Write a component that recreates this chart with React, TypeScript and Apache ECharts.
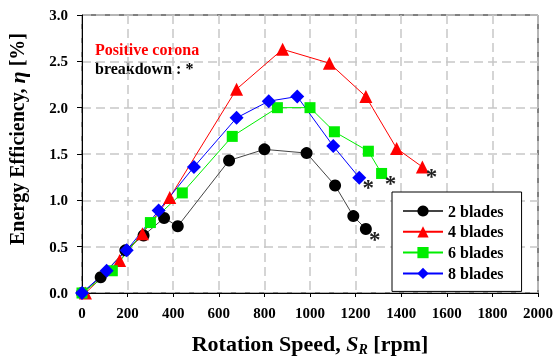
import React, { useEffect, useRef } from "react";
import * as echarts from "echarts";

const xTicks = [0, 200, 400, 600, 800, 1000, 1200, 1400, 1600, 1800, 2000];
const yTicks = ["0.0", "0.5", "1.0", "1.5", "2.0", "2.5", "3.0"];

const seriesNames = ["2 blades", "4 blades", "6 blades", "8 blades"];

const blades2: [number, number][] = [
  [0, 0], [82, 0.17], [190, 0.46], [270, 0.62], [360, 0.81], [420, 0.72],
  [645, 1.43], [800, 1.55], [985, 1.51], [1110, 1.16], [1190, 0.83], [1245, 0.69],
];
const blades4: [number, number][] = [
  [15, 0.0], [165, 0.35], [265, 0.64], [385, 1.03], [678, 2.2], [880, 2.63],
  [1085, 2.48], [1245, 2.12], [1380, 1.56], [1493, 1.36],
];
const blades6: [number, number][] = [
  [0, 0], [133, 0.24], [300, 0.76], [440, 1.08], [659, 1.69], [857, 2.0],
  [1000, 2.0], [1107, 1.74], [1256, 1.53], [1314, 1.29],
];
const blades8: [number, number][] = [
  [0, 0], [108, 0.24], [196, 0.46], [336, 0.89], [491, 1.36], [678, 1.89],
  [819, 2.07], [944, 2.12], [1102, 1.585], [1216, 1.245],
];

const colors = ["#000000", "#ff0000", "#00ee00", "#0000ff"];
const lineColors = ["#444444", "#ff0000", "#00ee00", "#0000ff"];
const symbols = ["circle", "triangle", "rect", "diamond"];
const symbolSizes = [12, 13, 11, 14];
const allData = [blades2, blades4, blades6, blades8];

const FONT = '"Liberation Serif", "Times New Roman", serif';

export default function App() {
  const ref = useRef<HTMLDivElement>(null);
  useEffect(() => {
    if (!ref.current) return;
    const chart = echarts.init(ref.current, null, { renderer: "svg" });
    const series = allData.map((d, i) => ({
      name: seriesNames[i],
      type: "line",
      symbol: symbols[i],
      symbolSize: symbolSizes[i],
      color: colors[i],
      lineStyle: { color: lineColors[i], width: 1 },
      itemStyle: { color: colors[i] },
      data: d.map((p, j) =>
        j === d.length - 1
          ? {
              value: p,
              label: {
                show: true,
                formatter: "*",
                position: [symbolSizes[i] / 2 + 9, symbolSizes[i] / 2 + 10],
                align: "center",
                verticalAlign: "middle",
                fontFamily: FONT,
                fontWeight: "bold",
                fontSize: 23,
                color: "#222",
              },
            }
          : p
      ),
    }));
    chart.setOption({
      animation: false,
      grid: {
        left: 82,
        right: 17,
        top: 15,
        bottom: 67,
        outerBoundsMode: "none",
        containLabel: false,
        show: true,
        borderColor: "#000",
        borderWidth: 1,
        backgroundColor: "transparent",
      },
      xAxis: {
        type: "value",
        min: 0,
        max: 2000,
        interval: 200,
        name: "{a|Rotation Speed, }{i|S}{s|R}{a| [rpm]}",
        nameLocation: "middle",
        nameGap: 37,
        nameTextStyle: {
          rich: {
            a: { fontFamily: FONT, fontWeight: "bold", fontSize: 22, color: "#000" },
            i: { fontFamily: FONT, fontWeight: "bold", fontStyle: "italic", fontSize: 22, color: "#000" },
            s: { fontFamily: FONT, fontWeight: "bold", fontStyle: "italic", fontSize: 14, color: "#000", padding: [12, 0, 0, 0] },
          },
        },
        axisLine: { lineStyle: { color: "#000", width: 1 } },
        axisTick: { show: true, length: 4, lineStyle: { color: "#000" } },
        axisLabel: {
          margin: 12,
          fontFamily: FONT,
          fontWeight: "bold",
          fontSize: 15,
          color: "#000",
          formatter: (v: number) => String(xTicks.find((t) => t === v) ?? v),
        },
        splitLine: { show: true, lineStyle: { color: "#c8c8c8", type: [9, 5], width: 1.5 } },
      },
      yAxis: {
        type: "value",
        min: 0,
        max: 3,
        interval: 0.5,
        name: "{a|Energy Efficiency, }{i|η}{a| [%]}",
        nameLocation: "middle",
        nameGap: 54,
        nameTextStyle: {
          padding: [0, 0, 0, 30],
          rich: {
            a: { fontFamily: FONT, fontWeight: "bold", fontSize: 20, color: "#000" },
            i: { fontFamily: FONT, fontWeight: "bold", fontStyle: "italic", fontSize: 22, color: "#000" },
          },
        },
        axisLine: { show: true, lineStyle: { color: "#000", width: 1 } },
        axisTick: { show: true, length: 5, lineStyle: { color: "#000" } },
        axisLabel: {
          margin: 14,
          fontFamily: FONT,
          fontWeight: "bold",
          fontSize: 15,
          color: "#000",
          formatter: (v: number) => yTicks[Math.round(v * 2)] ?? String(v),
        },
        splitLine: { show: true, lineStyle: { color: "#c8c8c8", type: [9, 5], width: 1.5 } },
      },
      legend: {
        data: seriesNames,
        orient: "vertical",
        left: 392,
        top: 192,
        itemWidth: 40,
        itemHeight: 14,
        itemGap: 4.8,
        padding: [11, 18, 10, 10],
        borderColor: "#000",
        borderWidth: 1,
        backgroundColor: "#fff",
        textStyle: { fontFamily: FONT, fontWeight: "bold", fontSize: 16, color: "#000" },
      },
      graphic: [
        {
          type: "text",
          left: 95,
          top: 41,
          style: { text: "Positive corona", fill: "#ff0000", font: `bold 16px ${FONT}` },
        },
        {
          type: "text",
          left: 95,
          top: 60,
          style: { text: "breakdown : *", fill: "#000", font: `bold 16px ${FONT}` },
        },
      ],
      series,
    });
    return () => chart.dispose();
  }, []);
  return (
    <div
      ref={ref}
      style={{ position: "fixed", left: 0, top: 0, width: 555, height: 360 }}
    />
  );
}
